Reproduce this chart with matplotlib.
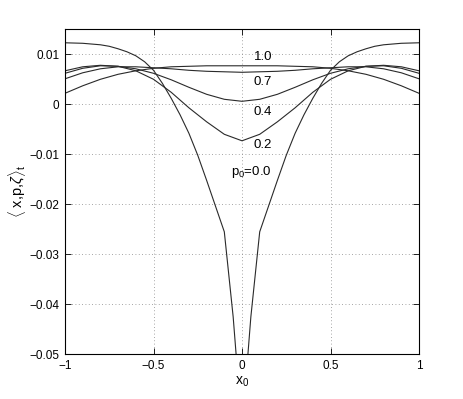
import matplotlib
matplotlib.use('Agg')
import matplotlib.pyplot as plt
import numpy as np

plt.rcParams['font.family'] = ['Liberation Sans', 'DejaVu Sans']
plt.rcParams['mathtext.fontset'] = 'custom'
plt.rcParams['mathtext.rm'] = 'Liberation Sans'
plt.rcParams['mathtext.it'] = 'Liberation Sans:italic'

# x grid of the sampled curves
x = [-1.0, -0.9, -0.8, -0.7, -0.6, -0.5, -0.4, -0.3, -0.2, -0.1, 0.0,
     0.1, 0.2, 0.3, 0.4, 0.5, 0.6, 0.7, 0.8, 0.9, 1.0]
# p0 = 0.0 is read on a finer grid (steep curve)
x_p00 = [-1.0, -0.9, -0.8, -0.75, -0.7, -0.65, -0.6, -0.55, -0.5, -0.45, -0.4, -0.35, -0.3, -0.25, -0.2,
         -0.1, -0.05, 0.0, 0.05, 0.1,
         0.2, 0.25, 0.3, 0.35, 0.4, 0.45, 0.5, 0.55, 0.6, 0.65, 0.7, 0.75, 0.8, 0.9, 1.0]

y_p00 = [0.0123, 0.0122, 0.0119, 0.0116, 0.0111, 0.0105, 0.0097, 0.0085, 0.0068, 0.0042, 0.0012, -0.0021, -0.0058, -0.0102, -0.0152,
         -0.0255, -0.0425, -0.065, -0.0425, -0.0255,
         -0.0152, -0.0102, -0.0058, -0.0021, 0.0012, 0.0042, 0.0068, 0.0085, 0.0097, 0.0105, 0.0111, 0.0116, 0.0119, 0.0122, 0.0123]
y_p02 = [0.0067, 0.0075, 0.0078, 0.0076, 0.0067, 0.0050, 0.0024, -0.0007, -0.0035, -0.0060, -0.0073,
         -0.0060, -0.0035, -0.0007, 0.0024, 0.0050, 0.0067, 0.0076, 0.0078, 0.0075, 0.0067]
y_p04 = [0.0062, 0.0072, 0.0077, 0.0076, 0.0071, 0.0062, 0.0049, 0.0034, 0.0020, 0.0010, 0.0006,
         0.0010, 0.0020, 0.0034, 0.0049, 0.0062, 0.0071, 0.0076, 0.0077, 0.0072, 0.0062]
y_p07 = [0.0051, 0.0063, 0.0071, 0.0075, 0.0075, 0.0073, 0.0071, 0.0068, 0.0066, 0.0065, 0.0064,
         0.0065, 0.0066, 0.0068, 0.0071, 0.0073, 0.0075, 0.0075, 0.0071, 0.0063, 0.0051]
y_p10 = [0.0022, 0.0037, 0.0050, 0.0060, 0.0067, 0.0072, 0.0075, 0.0076, 0.0077, 0.0077, 0.0077,
         0.0077, 0.0077, 0.0076, 0.0075, 0.0072, 0.0067, 0.0060, 0.0050, 0.0037, 0.0022]

labels = ['$\\mathrm{p_0}$=0.0', '0.2', '0.4', '0.7', '1.0']
label_y = [-0.0135, -0.0081, -0.0015, 0.0044, 0.0095]
label_x = 0.17

xticks = [-1, -0.5, 0, 0.5, 1]
xtick_labels = ['\u22121', '\u22120.5', '0', '0.5', '1']
yticks = [-0.05, -0.04, -0.03, -0.02, -0.01, 0, 0.01]
ytick_labels = ['\u22120.05', '\u22120.04', '\u22120.03', '\u22120.02', '\u22120.01', '0', '0.01']

fig = plt.figure(figsize=(4.63, 3.99), dpi=100)
ax = fig.add_axes([0.1404, 0.112, 0.7646, 0.8146])

ax.plot(x_p00, y_p00, color='#2a2a2a', lw=0.8)
for ys in (y_p02, y_p04, y_p07, y_p10):
    ax.plot(x, ys, color='#2a2a2a', lw=0.8)

for lab, ly in zip(labels, label_y):
    ax.text(label_x, ly, lab, ha='right', va='center', fontsize=9.5)

ax.set_xlim(-1, 1)
ax.set_ylim(-0.05, 0.015)
ax.set_xticks(xticks, labels=xtick_labels)
ax.set_yticks(yticks, labels=ytick_labels)
ax.tick_params(direction='in', top=True, right=True, length=4, width=0.6, labelsize=8.5, pad=4)
ax.grid(True, linestyle=(0, (1, 3)), color='#888888', lw=0.6)
for s in ax.spines.values():
    s.set_linewidth(0.8)

ax.set_xlabel('$\\mathrm{x_0}$', fontsize=10, labelpad=2)
ax.set_ylabel('$\\langle$ x,p,$\\zeta\\rangle_\\mathrm{t}$', fontsize=10.5, labelpad=1)

fig.savefig('out.png', dpi=100)
